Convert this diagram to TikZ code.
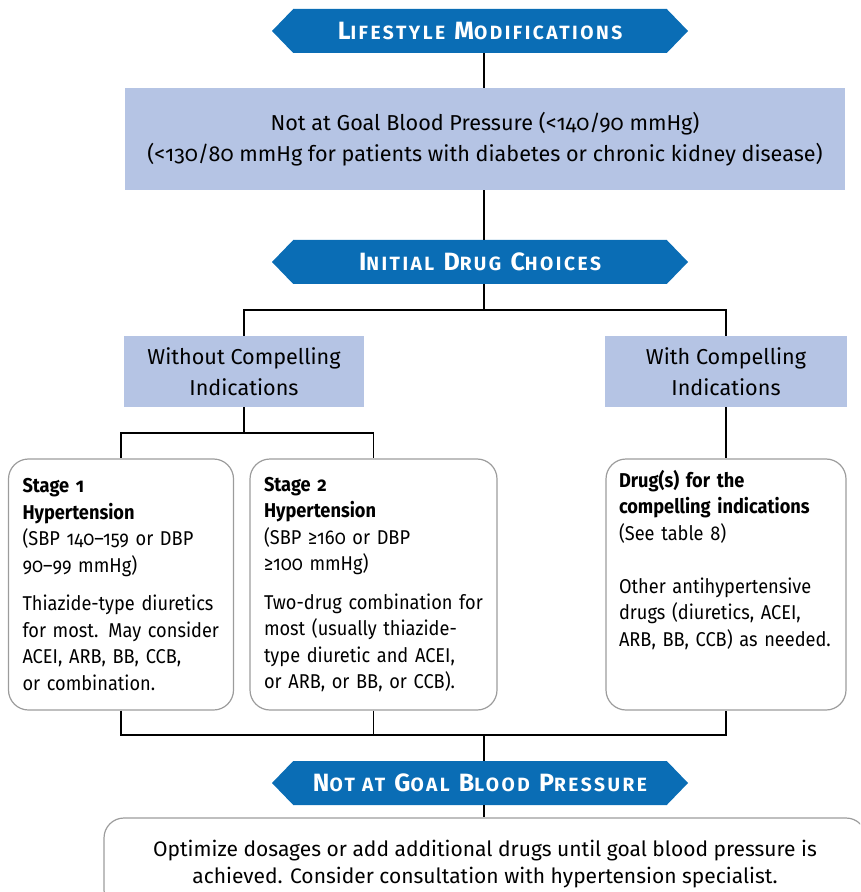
\documentclass[tikz,border=0pt]{standalone}
\usepackage{fontspec}
\setmainfont{Fira Sans}[Numbers=OldStyle]
\newfontfamily\narrowfont{Fira Sans}[Numbers=OldStyle, FakeStretch=0.91]
\usetikzlibrary{shapes.symbols}
\definecolor{bannerblue}{HTML}{0A6DB5}
\definecolor{boxblue}{HTML}{B5C4E4}
\definecolor{edgegray}{HTML}{9C9C9C}
\newcommand{\scw}[2]{#1{\fontsize{9.6}{10}\selectfont#2}}

\begin{document}
\begin{tikzpicture}[x=0.5pt,y=-0.5pt]
\tikzstyle{banner}=[signal, signal to=west and east, signal pointer angle=92, fill=bannerblue, text=white, font=\bfseries\fontsize{12.5}{13}\selectfont\addfontfeature{LetterSpace=13}, minimum width=208pt, minimum height=22pt, inner sep=0pt]
\tikzstyle{bluebox}=[rectangle, fill=boxblue, align=center, font=\fontsize{10.8}{15.5}\selectfont, inner sep=0pt]
\tikzstyle{drugbox}=[rectangle, draw=edgegray, line width=0.6pt, rounded corners=10pt, align=left, font=\narrowfont\fontsize{10}{13.25}\selectfont, inner xsep=7pt, inner ysep=0pt, minimum height=125.5pt]
\tikzstyle{link}=[black, line width=0.6pt]
\useasboundingbox (0,0) rectangle (860,892);
\clip (0,0) rectangle (860,892);
\node [banner] (life) at (480,31) {\scw{L}{IFESTYLE} \scw{M}{ODIFICATIONS}};
\node [bluebox, minimum width=360pt, minimum height=51pt] (goal) at (485,139)
  {Not at Goal Blood Pressure (<140/90 mmHg)\\(<130/80 mmHg for patients with diabetes or chronic kidney disease)};
\node [banner] (init) at (480,262) {\scw{I}{NITIAL} \scw{D}{RUG} \scw{C}{HOICES}};
\node [bluebox, minimum width=120pt, minimum height=35.5pt] (without) at (244,371.5) {Without Compelling\\Indications};
\node [bluebox, minimum width=121pt, minimum height=35.5pt] (with) at (726,371.5) {With Compelling\\Indications};
\node [drugbox, text width=98.5pt] (stage1) at (121,584.5)
  {\textbf{Stage 1}\\\textbf{Hypertension}\\(SBP 140–159 or DBP\\90–99 mmHg)\\[6pt]
   Thiazide-type diuretics\\for most. May consider\\ACEI, ARB, BB, CCB,\\or combination.};
\node [drugbox, text width=109.5pt] (stage2) at (373.5,584.5)
  {\textbf{Stage 2}\\\textbf{Hypertension}\\(SBP ≥160 or DBP\\≥100 mmHg)\\[6pt]
   Two-drug combination for\\most (usually thiazide-\\type diuretic and ACEI,\\or ARB, or BB, or CCB).};
\node [drugbox, inner xsep=6.5pt, text width=107pt] (drugs) at (726,584.5)
  {\textbf{Drug(s) for the}\\\textbf{compelling indications}\\(See table 8)\\[13.25pt]
   Other antihypertensive\\drugs (diuretics, ACEI,\\ARB, BB, CCB) as needed.\\[9pt]\strut};
\node [banner] (recheck) at (480,783) {\scw{N}{OT AT} \scw{G}{OAL} \scw{B}{LOOD} \scw{P}{RESSURE}};
\node [drugbox, align=center, font=\fontsize{10.5}{13.5}\selectfont, minimum width=381pt, minimum height=46pt] (optimize) at (485,864)
  {Optimize dosages or add additional drugs until goal blood pressure is\\achieved. Consider consultation with hypertension specialist.};
\coordinate (j1) at (484,310);
\coordinate (j2) at (244,433);
\coordinate (j3) at (484,735);
\draw [link] (goal.north -| j1) -- (life.south -| j1);
\draw [link] (goal.south -| j1) -- (init.north -| j1);
\draw [link] (init.south -| j1) -- (j1) -| (without.north);
\draw [link] (j1) -| (with.north);
\draw [link] (without.south) -- (j2) -| (stage1.north);
\draw [link] (j2) -| (stage2.north);
\draw [link] (with.south) -- (drugs.north);
\draw [link] (stage1.south) |- (j3) -| (drugs.south);
\draw [link] (stage2.south) -- (stage2.south |- j3);
\draw [link] (j3) -- (recheck.north -| j3);
\draw [link] (recheck.south -| j3) -- (optimize.north -| j3);
\end{tikzpicture}
\end{document}
